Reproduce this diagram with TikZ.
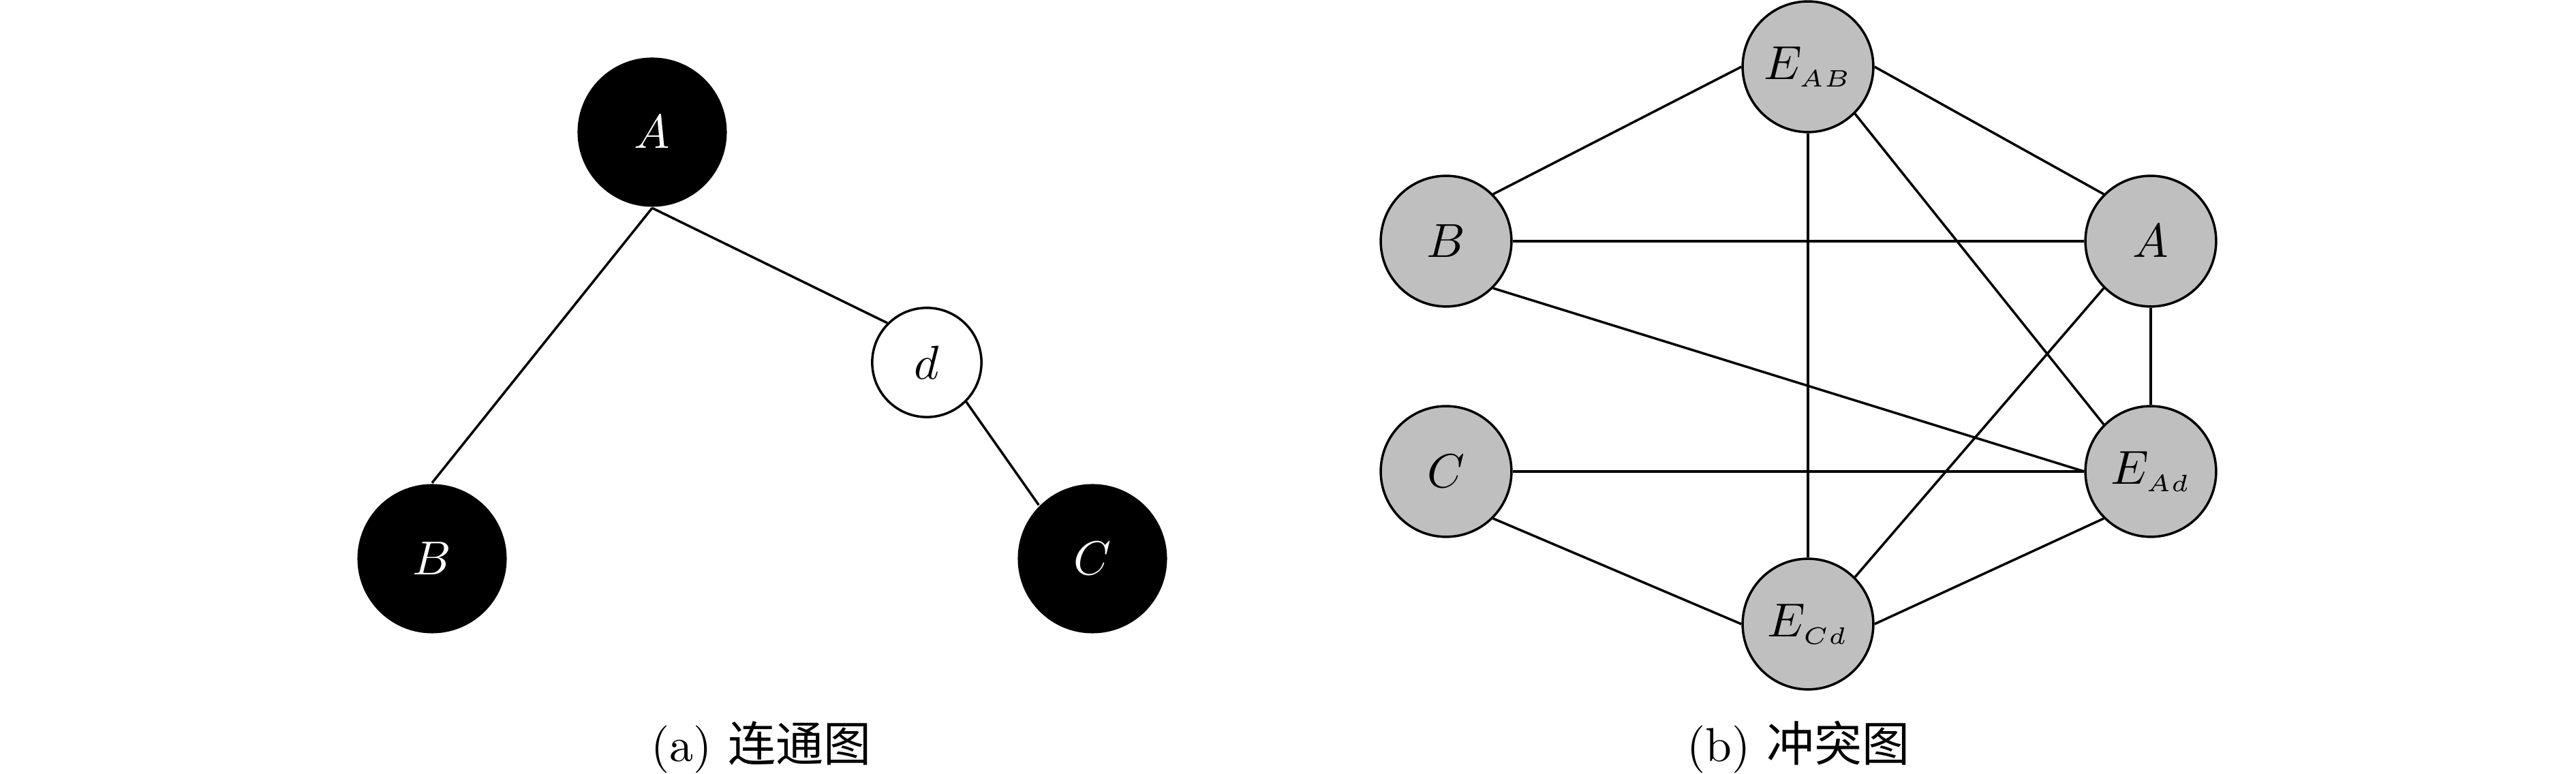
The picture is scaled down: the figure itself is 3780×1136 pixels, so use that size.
\documentclass[tikz,border=0pt]{standalone}
\usepackage{fontspec}
\newfontfamily\cjkfont{Noto Sans CJK SC}
\begin{document}
\begin{tikzpicture}[x=0.142857pt,y=-0.142857pt,line width=0.5pt,
  blacknode/.style={circle,fill=black,text=white,minimum size=31.3pt,inner sep=0pt},
  whitenode/.style={circle,draw,fill=white,minimum size=22.9pt,inner sep=0pt},
  graynode/.style={circle,draw,fill=black!25,minimum size=27.4pt,inner sep=0pt},
  link/.style={draw,line width=0.5pt},
  caption/.style={anchor=base,inner sep=0pt}]
\useasboundingbox (0,0) rectangle (3780,1136);
% (a) connected graph
\node[blacknode] (a) at (957,194) {$A$};
\node[blacknode] (b) at (634,820) {$B$};
\node[whitenode] (d) at (1360,532) {$d$};
\node[blacknode] (c) at (1603,820) {$C$};
\draw[link] (a.south) -- (b.north);
\draw[link] (a.south) -- (d.north west);
\draw[link] (d.south east) -- (c.north west);
% (b) conflict graph
\node[graynode] (eab) at (2653,98) {$E_{\scriptscriptstyle AB}$};
\node[graynode] (gb) at (2122,354) {$B$};
\node[graynode] (ga) at (3156,354) {$A$};
\node[graynode] (gc) at (2122,692) {$C$};
\node[graynode] (ead) at (3156,692) {$E_{\scriptscriptstyle Ad}$};
\node[graynode] (ecd) at (2653,916) {$E_{\scriptscriptstyle Cd}$};
\draw[link] (eab.west) -- (gb.north east);
\draw[link] (eab.east) -- (ga.north west);
\draw[link] (eab.south) -- (ecd.north);
\draw[link] (eab.south east) -- (ead.north west);
\draw[link] (gb.east) -- (ga.west);
\draw[link] (gb.south east) -- (ead.west);
\draw[link] (ga.south) -- (ead.north);
\draw[link] (ga.south west) -- (ecd.north east);
\draw[link] (gc.east) -- (ead.west);
\draw[link] (gc.south east) -- (ecd.west);
\draw[link] (ecd.east) -- (ead.south west);
% captions
\node[caption] (capa) at (1117,1118) {(a) {\cjkfont 连通图}};
\node[caption] (capb) at (2639,1118) {(b) {\cjkfont 冲突图}};
\end{tikzpicture}
\end{document}
